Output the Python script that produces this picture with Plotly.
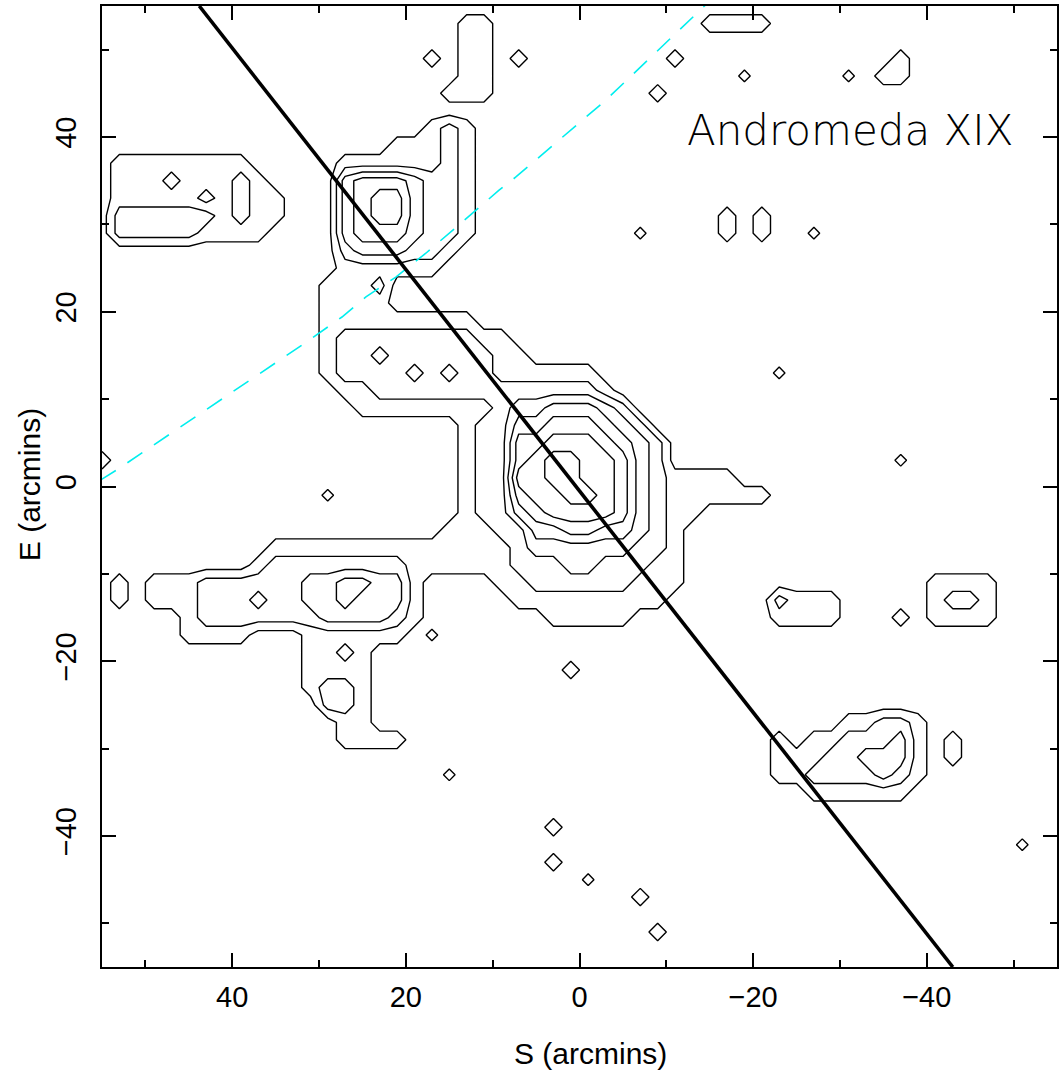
import numpy as np
import plotly.graph_objects as go

# ---------------- data ----------------
# Star-count density map on a 2-arcmin grid (x = S offset, y = E offset).
# Grid columns run from x=+55 (col 0) to x=-55 (col 55); rows from y=+55 (row 0) to y=-55 (row 55).
GRID_X = np.arange(55, -57, -2)
GRID_Y = np.arange(55, -57, -2)

# Non-zero cells, per row: (first column, run of contour-level digits)
DENSITY_RUNS = {
    1: [(21, "11"), (35, "1111")],
    2: [(21, "11")],
    3: [(19, "1"), (21, "11"), (24, "1"), (33, "1"), (46, "1")],
    4: [(21, "11"), (45, "11")],
    5: [(20, "111"), (32, "1")],
    7: [(19, "121")],
    8: [(17, "11121")],
    9: [(1, "11111111"), (14, "11111121")],
    10: [(1, "111011121"), (14, "34443221")],
    11: [(1, "1111101211"), (14, "34553221")],
    12: [(1, "2222221211"), (14, "34553221"), (36, "1"), (38, "1")],
    13: [(1, "222221111"), (14, "34443221"), (36, "1"), (38, "1")],
    14: [(14, "2333221")],
    15: [(14, "111111")],
    16: [(13, "1112")],
    17: [(13, "1111")],
    18: [(13, "111111111")],
    19: [(13, "12222222211")],
    20: [(13, "122122222211")],
    21: [(13, "1222212122111111")],
    22: [(14, "1122222222222221")],
    23: [(15, "1111111123344432")],
    24: [(21, "12244555432")],
    25: [(21, "122556665432")],
    26: [(0, "1"), (21, "122567766532")],
    27: [(21, "1226677665321111")],
    28: [(21, "122566776532111111")],
    29: [(21, "12245666653211")],
    30: [(20, "11122445544321")],
    31: [(10, "111111111111112333333221")],
    32: [(9, "1222222221111112223322211")],
    33: [(1, "1"), (3, "1112222223344331"), (23, "11222222111"), (48, "1111")],
    34: [(1, "1"), (3, "1112223223343331"), (24, "111111111"), (39, "2111"), (48, "1221")],
    35: [(5, "12222222333321"), (26, "11111"), (39, "1111"), (46, "1"), (48, "1111")],
    36: [(5, "1111"), (12, "111111")],
    37: [(12, "1121")],
    38: [(12, "1111"), (27, "1")],
    39: [(12, "1221")],
    40: [(13, "221")],
    41: [(14, "11"), (43, "11221")],
    42: [(14, "1111"), (39, "1"), (41, "1122231"), (49, "1")],
    43: [(39, "111223331"), (49, "1")],
    44: [(39, "112222321")],
    45: [(41, "111111")],
    47: [(26, "1")],
    49: [(26, "1")],
    51: [(31, "1")],
    53: [(32, "1")],
}
# Tiny isolated specks (row, column) and their faint level
SPECKS = [(21, 39), (26, 46), (13, 31), (13, 41), (4, 43), (4, 37), (36, 19),
          (44, 20), (50, 28), (48, 53), (28, 13)]
SPECK_LEVEL = 0.75
CONTOUR_LEVELS = dict(start=0.5, end=6.5, size=1)

# Straight black line (end points, arcmin)
LINE_X = [43.8, -43.0]
LINE_Y = [55.0, -55.0]

# Cyan dashed arc (arcmin)
ARC_X = [55.17, 53.3, 31.95, 30.0, 27.36, 24.6, 21.15, 17.7, 15.06, 11.95, 9.3, 7.36, -3.0, -14.5]
ARC_Y = [0.74, 1.9, 16.2, 17.6, 19.4, 21.7, 23.97, 26.7, 29.0, 31.6, 33.9, 35.4, 44.2, 55.1]

X_TICKS = [40, 20, 0, -20, -40]
X_TICK_TEXT = ["40", "20", "0", "\u221220", "\u221240"]
Y_TICKS = [-40, -20, 0, 20, 40]
Y_TICK_TEXT = ["\u221240", "\u221220", "0", "20", "40"]
MINOR_TICKS = [50, 30, 10, -10, -30, -50]

LABEL_NAME = "Andromeda XIX"
LABEL_POS = (-31.1, 40.8)
X_TITLE = "S (arcmins)"
Y_TITLE = "E (arcmins)"

# ---------------- build grid ----------------
n = len(GRID_X)
z = np.zeros((n, n))
for row, runs in DENSITY_RUNS.items():
    for col, digits in runs:
        for k, ch in enumerate(digits):
            z[row, col + k] = int(ch)
for row, col in SPECKS:
    z[row, col] = SPECK_LEVEL

fig = go.Figure()
fig.add_trace(go.Contour(
    x=GRID_X, y=GRID_Y[::-1], z=z[::-1],
    contours=dict(coloring="lines", **CONTOUR_LEVELS),
    colorscale=[[0, "black"], [1, "black"]],
    showscale=False,
    line=dict(width=1.4, smoothing=0),
    hoverinfo="skip",
))
fig.add_trace(go.Scatter(
    x=ARC_X, y=ARC_Y, mode="lines",
    line=dict(color="#00eeee", width=1.6, dash="18px,14px"),
    hoverinfo="skip",
))
fig.add_trace(go.Scatter(
    x=LINE_X, y=LINE_Y, mode="lines",
    line=dict(color="black", width=3.6),
    hoverinfo="skip",
))

tickfont = dict(family="Liberation Sans, Arial, sans-serif", size=29, color="black")
axis_common = dict(
    showline=True, linecolor="black", linewidth=2, mirror="ticks",
    ticks="inside", ticklen=14, tickwidth=2, tickcolor="black",
    showgrid=False, zeroline=False,
    minor=dict(ticks="inside", ticklen=7, tickwidth=2, tickcolor="black",
               tickvals=MINOR_TICKS, showgrid=False),
    tickfont=tickfont,
)

fig.update_layout(
    width=1060, height=1074,
    margin=dict(l=102, r=1, t=6, b=107),
    paper_bgcolor="white", plot_bgcolor="white",
    showlegend=False,
    xaxis=dict(range=[55, -55], tickmode="array", tickvals=X_TICKS, ticktext=X_TICK_TEXT,
               ticklabelstandoff=3, **axis_common),
    yaxis=dict(range=[-55, 55], tickmode="array", tickvals=Y_TICKS, ticktext=Y_TICK_TEXT,
               tickangle=-90, ticklabelstandoff=12, **axis_common),
    annotations=[
        dict(x=LABEL_POS[0], y=LABEL_POS[1], xref="x", yref="y", text=LABEL_NAME,
             showarrow=False, xanchor="center", yanchor="middle",
             font=dict(family="DejaVu Sans", size=42, color="black", weight=200)),
        dict(x=0.512, y=-0.0895, xref="paper", yref="paper", text=X_TITLE,
             showarrow=False, xanchor="center", yanchor="middle",
             font=dict(family="Liberation Sans, Arial, sans-serif", size=30, color="black")),
        dict(x=-0.0752, y=0.5016, xref="paper", yref="paper", text=Y_TITLE, textangle=-90,
             showarrow=False, xanchor="center", yanchor="middle",
             font=dict(family="Liberation Sans, Arial, sans-serif", size=30, color="black")),
    ],
)

fig.write_html(
    "out.html",
    config={"displayModeBar": False},
    post_script="document.body.style.margin='0px';document.body.style.overflow='hidden';",
)
